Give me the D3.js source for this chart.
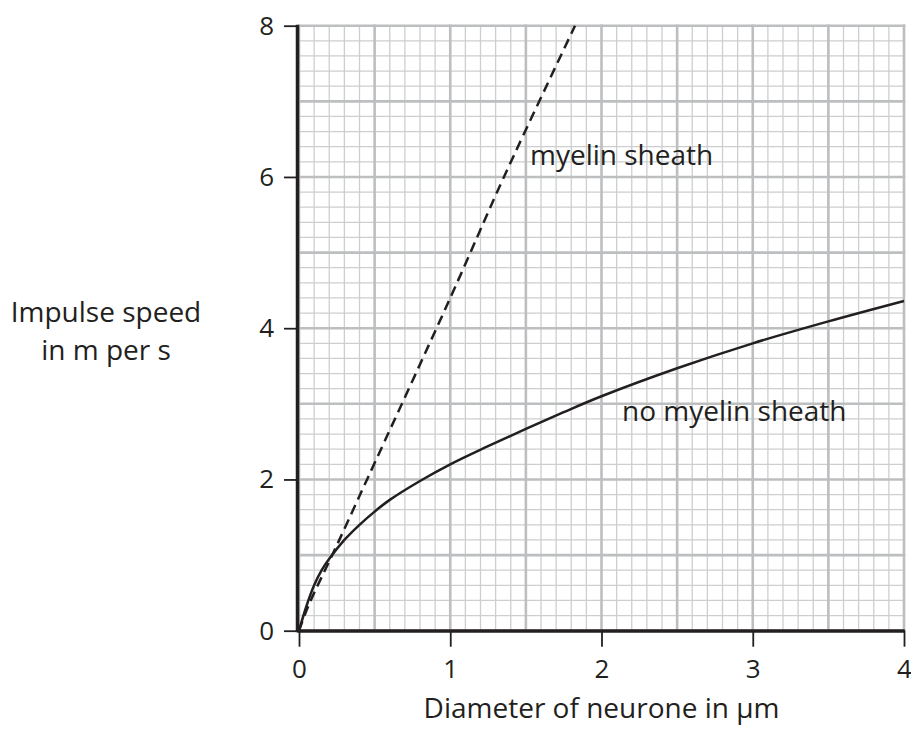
<!DOCTYPE html>
<html>
<head>
<meta charset="utf-8">
<script src="https://cdn.jsdelivr.net/npm/d3@7"></script>
<style>
    body { margin: 0; background: #fff; }
    text { font-family: "Open Sans", "Noto Sans", sans-serif; fill: #231f20; }
</style>
</head>
<body>
<div id="d3plot"></div>
<script>
// Data
// ==================================================================
const xTicks = [0, 1, 2, 3, 4],
    yTicks = [0, 2, 4, 6, 8];

// no myelin sheath (solid line)
const noMyelinDiameter = [0, 0.05, 0.1, 0.15, 0.2, 0.3, 0.4, 0.5, 0.6, 0.8, 1, 1.25, 1.5, 1.75, 2, 2.5, 3, 3.5, 4],
    noMyelinSpeed = [0, 0.33, 0.6, 0.8, 0.95, 1.2, 1.4, 1.575, 1.73, 1.98, 2.2, 2.44, 2.67, 2.89, 3.1, 3.47, 3.8, 4.09, 4.36];

// myelin sheath (dashed line)
const myelinDiameter = [0, 0.05, 0.1, 0.215, 0.45, 1, 1.355, 1.825],
    myelinSpeed = [0, 0.27, 0.5, 0.98, 2.0, 4.4, 6.0, 8.0];

// Define paths and global variables
// ==================================================================
const W = 911, H = 735,
    margin = {top: 25.7, right: 7, bottom: 104.3, left: 299},
    width = W - margin.left - margin.right,
    height = H - margin.top - margin.bottom;

const ink = "#231f20",
    majorGrey = "#bcbec0",
    minorGrey = "#cdced0";

// Scales
// ==================================================================
let xScale = d3.scaleLinear()
    .domain([0, 4])
    .range([0, width]);

let yScale = d3.scaleLinear()
    .domain([0, 8])
    .range([height, 0]);

// Add svg
// ==================================================================
let svg = d3.select("#d3plot")
    .append("svg")
        .attr("width", W)
        .attr("height", H)
    .append("g")
        .attr("transform", "translate(" + margin.left + "," + margin.top + ")");

// Define functions
// ==================================================================
function draw_grid() {
    // minor lines every 0.1 (x) and 0.2 (y), major every 0.5 (x) and 1 (y)
    let xMinor = d3.range(0, 41).map(i => i / 10),
        yMinor = d3.range(0, 41).map(i => i / 5);

    let grid = svg.append("g").attr("class", "grid");

    grid.selectAll("line.vminor")
        .data(xMinor.filter((d, i) => i % 5 != 0))
        .enter()
        .append("line")
            .attr("x1", d => xScale(d))
            .attr("x2", d => xScale(d))
            .attr("y1", 0)
            .attr("y2", height)
            .attr("stroke", minorGrey)
            .attr("stroke-width", 1.3);

    grid.selectAll("line.hminor")
        .data(yMinor.filter((d, i) => i % 5 != 0))
        .enter()
        .append("line")
            .attr("x1", 0)
            .attr("x2", width)
            .attr("y1", d => yScale(d))
            .attr("y2", d => yScale(d))
            .attr("stroke", minorGrey)
            .attr("stroke-width", 1.3);

    grid.selectAll("line.vmajor")
        .data(xMinor.filter((d, i) => i % 5 == 0))
        .enter()
        .append("line")
            .attr("x1", d => xScale(d))
            .attr("x2", d => xScale(d))
            .attr("y1", -1.2)
            .attr("y2", height)
            .attr("stroke", majorGrey)
            .attr("stroke-width", 2.6);

    grid.selectAll("line.hmajor")
        .data(yMinor.filter((d, i) => i % 5 == 0))
        .enter()
        .append("line")
            .attr("x1", 0)
            .attr("x2", width + 1.3)
            .attr("y1", d => yScale(d))
            .attr("y2", d => yScale(d))
            .attr("stroke", majorGrey)
            .attr("stroke-width", 2.6);
};

function generate_axis() {
    let xAxis = svg.append("g")
        .attr("transform", "translate(0," + height + ")")
        .call(d3.axisBottom(xScale)
            .tickValues(xTicks)
            .tickSize(16)
            .tickPadding(13)
            .tickFormat(d3.format("d")));

    let yAxis = svg.append("g")
        .call(d3.axisLeft(yScale)
            .tickValues(yTicks)
            .tickSize(15)
            .tickPadding(10)
            .tickFormat(d3.format("d")));

    [xAxis, yAxis].forEach(a => {
        a.select(".domain").remove();
        a.selectAll(".tick line")
            .attr("stroke", ink)
            .attr("stroke-width", 1.8);
        a.selectAll(".tick text")
            .attr("fill", ink)
            .style("font-size", "26px");
    });

    // axis lines drawn over the grid
    svg.append("line")
        .attr("x1", -1.5).attr("x2", -1.5)
        .attr("y1", -1).attr("y2", height + 1.5)
        .attr("stroke", ink)
        .attr("stroke-width", 3.5);

    svg.append("line")
        .attr("x1", -1.5).attr("x2", width + 0.8)
        .attr("y1", height + 0.3).attr("y2", height + 0.3)
        .attr("stroke", ink)
        .attr("stroke-width", 3.5);

    // axis titles
    svg.append("text")
        .attr("x", width / 2)
        .attr("y", height + 87)
        .attr("text-anchor", "middle")
        .style("font-size", "28px")
        .text("Diameter of neurone in µm");

    let ytitle = svg.append("text")
        .attr("text-anchor", "middle")
        .style("font-size", "28px");
    ytitle.append("tspan")
        .attr("x", 106 - margin.left)
        .attr("y", 322 - margin.top)
        .text("Impulse speed");
    ytitle.append("tspan")
        .attr("x", 106 - margin.left)
        .attr("y", 360 - margin.top)
        .text("in m per s");
};

function draw_lines() {
    let line = d3.line()
        .x(d => xScale(d[0]))
        .y(d => yScale(d[1]))
        .curve(d3.curveCatmullRom.alpha(0.5));

    let noMyelin = noMyelinDiameter.map((d, i) => [d, noMyelinSpeed[i]]),
        myelin = myelinDiameter.map((d, i) => [d, myelinSpeed[i]]);

    svg.append("path")
        .datum(myelin)
        .attr("fill", "none")
        .attr("stroke", ink)
        .attr("stroke-width", 2.5)
        .attr("stroke-dasharray", "10,6")
        .attr("d", line);

    svg.append("path")
        .datum(noMyelin)
        .attr("fill", "none")
        .attr("stroke", ink)
        .attr("stroke-width", 2.5)
        .attr("d", line);

    svg.append("text")
        .attr("x", 530 - margin.left)
        .attr("y", 165 - margin.top)
        .style("font-size", "28px")
        .text("myelin sheath");

    svg.append("text")
        .attr("x", 622 - margin.left)
        .attr("y", 421 - margin.top)
        .style("font-size", "28px")
        .text("no myelin sheath");
};

// Plot
// ==================================================================
draw_grid();
draw_lines();
generate_axis();
</script>
</body>
</html>
